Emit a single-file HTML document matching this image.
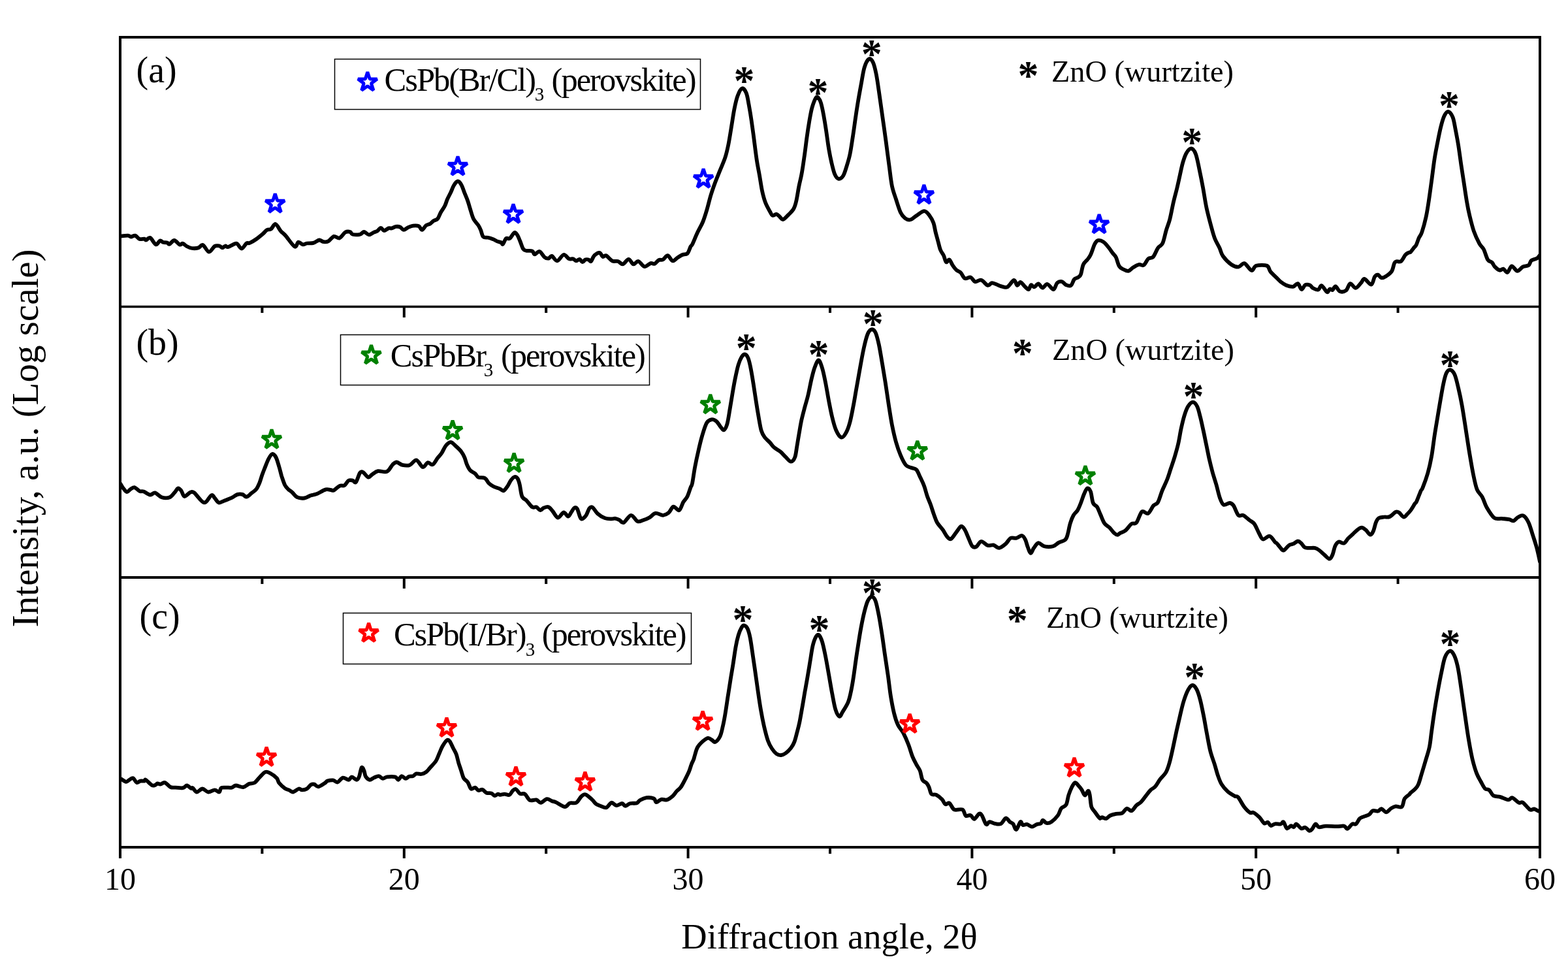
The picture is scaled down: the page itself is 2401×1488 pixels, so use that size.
<!DOCTYPE html><html><head><meta charset="utf-8"><title>XRD patterns</title>
<style>html,body{margin:0;padding:0;background:#fff;overflow:hidden;width:2401px;height:1488px;}svg{display:block;}</style></head><body>
<svg width="2401" height="1488" viewBox="0 0 2401 1488">
<rect width="2401" height="1488" fill="#fff"/>
<defs><clipPath id="pa"><rect x="184" y="40" width="2174" height="1257"/></clipPath></defs>
<g fill="none" stroke="#000" stroke-width="5.8" stroke-linejoin="round" stroke-linecap="round" clip-path="url(#pa)">
<path d="M184 361 C184.3 361.1 183.6 361.4 185.6 361.3 C187.6 361.2 193.5 360.4 196 360.6 C198.5 360.8 198.8 362.5 200.6 362.5 C202.4 362.5 204.8 360 207 360.6 C209.2 361.2 211.4 365.2 213.8 366 C216.1 366.8 219.3 365.4 221 365.6 C222.7 365.9 222.2 367.8 223.8 367.5 C225.2 367.2 227.5 362.9 230 364 C232.5 365.1 236.2 373.6 238.8 374.4 C241.2 375.1 243.1 369.1 245 368.5 C246.9 367.9 248.2 370.5 250 371 C251.8 371.5 254.4 371 256 371.5 C257.6 372 257.6 374.3 259.4 373.8 C261.2 373.2 264.3 367.9 266.9 368 C269.5 368.1 272.8 373.6 275 374.4 C277.2 375.2 278.2 372.3 280 372.8 C281.8 373.2 283.7 375.8 286 377 C288.3 378.2 290.8 379.6 293.8 380 C296.7 380.4 300.9 380.2 303.8 379.4 C306.6 378.6 307.9 374 310.6 375 C313.3 376 317 385.3 320 385.6 C323 385.9 326.1 378.4 328.8 376.9 C331.4 375.4 334 376.1 336 376.5 C338 376.9 339.1 379.4 340.6 379.4 C342.1 379.4 343.5 376.7 345 376.5 C346.5 376.3 346.9 378.6 349.4 378 C351.9 377.4 357.6 373.7 360 373 C362.4 372.3 362.1 372.5 363.8 373.8 C365.4 375 367.7 380.8 370 380.6 C372.3 380.4 375.4 373.9 377.5 372.5 C379.6 371.1 380 373 382.5 371.9 C385 370.8 389.2 368.3 392.5 366 C395.8 363.7 399.8 360.3 402.5 358 C405.2 355.7 406.7 353.2 408.8 352 C410.8 350.8 412.8 352.1 415 350.6 C417.2 349.1 419.4 342.5 421.9 343 C424.4 343.5 427.4 350.8 430 353.8 C432.6 356.8 434 357 437.5 361 C441 365 448 375.9 451.2 377.5 C454.5 379.1 454.8 371.1 456.9 370.6 C459 370.1 461.6 374.1 463.8 374.4 C465.9 374.7 467.3 372.9 470 372.5 C472.7 372.1 476.9 372.7 480 371.9 C483.1 371.1 486.2 367.8 488.8 367.5 C491.2 367.2 492.7 369.7 495 370 C497.3 370.3 499.8 370.8 502.5 369.4 C505.2 368 508.3 362.7 511.2 361.9 C514.2 361.1 517.1 365.4 520 364.4 C522.9 363.3 526 357.2 528.8 355.6 C531.5 354 534.4 354.5 536.2 355 C538.1 355.5 537.5 358.1 540 358.8 C542.5 359.4 548.3 359.4 551.2 358.8 C554.2 358.1 555.2 354.9 557.5 355 C559.8 355.1 562.5 359.3 565 359.4 C567.5 359.5 570.4 356.5 572.5 355.6 C574.6 354.7 575.7 354.9 577.5 353.8 C579.3 352.6 581.3 348.9 583.1 348.8 C584.9 348.6 586.1 353 588.1 353.1 C590.1 353.2 593 350 595 349.4 C597 348.8 598.1 349.8 600 349.4 C601.9 349 604.2 347.2 606.2 346.9 C608.3 346.6 610.5 346.7 612.5 347.5 C614.5 348.3 616 351.8 618.1 351.9 C620.2 352 622.6 349.2 625 348.1 C627.4 347.1 629.8 345.9 632.5 345.6 C635.2 345.3 639 345.2 641.2 346.2 C643.5 347.3 644.4 352.1 646.2 351.9 C648.1 351.7 650.4 346.6 652.5 345 C654.6 343.4 656.9 343.6 658.8 342.5 C660.6 341.4 661.9 339.4 663.8 338.1 C665.6 336.9 668.1 337.2 670 335 C671.9 332.8 673.1 328.3 675 325 C676.9 321.7 679.6 318.3 681.2 315 C682.9 311.7 683.5 308.3 685 305 C686.5 301.7 688.3 298.5 690 295 C691.7 291.5 693.2 286.7 695 283.8 C696.8 280.8 699.1 277.7 701 277.5 C702.9 277.3 704.5 279.6 706.2 282.5 C708 285.4 709.6 290.8 711.2 295 C712.9 299.2 714.8 303.3 716.2 307.5 C717.7 311.7 718.5 315.4 720 320 C721.5 324.6 722.9 330.8 725 335 C727.1 339.2 730.6 342.1 732.5 345 C734.4 347.9 735 349.6 736.2 352.5 C737.5 355.4 738.1 360.6 740 362.5 C741.9 364.4 745 363.1 747.5 363.8 C750 364.4 752.7 365.3 755 366.2 C757.3 367.2 759.2 368.6 761.2 369.4 C763.3 370.2 766 370.5 767.5 371.2 C769 372 768.8 374.8 770 373.8 C771.2 372.7 773.2 366.5 775 365 C776.8 363.5 778.5 366.5 780.6 365 C782.7 363.5 785.6 357.2 787.5 356.2 C789.4 355.3 790.4 357.3 791.9 359.4 C793.4 361.5 794.7 365.1 796.2 368.8 C797.8 372.4 799.6 378.8 801.2 381.2 C802.9 383.8 804 383.2 806.2 383.8 C808.5 384.3 812.9 383.5 815 384.4 C817.1 385.3 816.9 389.3 818.8 389.4 C820.6 389.5 823.8 384.3 826.2 385 C828.8 385.7 831.5 392 833.8 393.8 C836 395.5 838.1 395.9 840 395.6 C841.9 395.3 842.8 391.3 845 391.9 C847.2 392.5 850.1 399.7 853.1 399.4 C856.1 399.1 860.1 390.5 863.1 390 C866.1 389.5 868.9 395.2 871.2 396.2 C873.6 397.3 875.6 395.7 877.5 396.2 C879.4 396.8 880.8 399.3 882.5 399.4 C884.2 399.5 885.9 396.6 887.5 396.9 C889.1 397.2 890.4 401.1 891.9 401.2 C893.4 401.4 894.7 398.1 896.2 397.5 C897.8 396.9 899.8 397.1 901.2 397.5 C902.7 397.9 903.5 401 905 400 C906.5 399 907.8 393.4 910 391.2 C912.2 389.1 915.9 386.6 918.1 386.9 C920.3 387.2 921.4 392.4 923.1 393.1 C924.8 393.8 925.7 390.2 928.1 391.2 C930.5 392.3 934.5 397.9 937.5 399.4 C940.5 400.9 943.5 399.2 946.2 400 C949 400.8 951 404.9 953.8 404.4 C956.5 403.9 959.8 396.9 962.5 396.9 C965.2 396.9 967.5 403.9 970 404.4 C972.5 404.9 974.7 399.4 977.5 400 C980.3 400.6 983.8 407.6 986.9 408.1 C990 408.6 993.6 403.8 996.2 403.1 C998.9 402.4 1000.4 404.6 1002.5 403.8 C1004.6 402.9 1006.7 399.1 1008.8 398.1 C1010.8 397.1 1012.7 398.6 1015 397.5 C1017.3 396.4 1020 390.9 1022.5 391.2 C1025 391.6 1027.5 398.9 1030 399.4 C1032.5 399.9 1035 396 1037.5 394.4 C1040 392.8 1042.5 391.1 1045 390 C1047.5 388.9 1050.4 390.2 1052.5 388.1 C1054.6 386 1056.2 379.8 1057.5 377.5 C1058.8 375.2 1058.2 377.9 1060 374.3 C1061.8 370.7 1065.3 361.8 1068 356.1 C1070.7 350.4 1073.7 345.7 1076.1 340 C1078.5 334.3 1080.2 328.6 1082.2 321.9 C1084.2 315.2 1086.2 306.4 1088.2 299.7 C1090.2 293 1092 287.9 1094.3 281.5 C1096.6 275.1 1099.6 268.1 1102.3 261.4 C1105 254.7 1108.2 247.9 1110.4 241.2 C1112.6 234.5 1113.7 229.4 1115.4 221 C1117.1 212.6 1119 199.9 1120.5 190.8 C1122 181.7 1123 174 1124.5 166.6 C1126 159.2 1127.6 151.7 1129.6 146.5 C1131.5 141.3 1134 136.1 1136.2 135.4 C1138.4 134.7 1141 138.2 1142.7 142.4 C1144.5 146.6 1145.4 153.5 1146.7 160.6 C1148 167.7 1149.4 175.7 1150.7 184.8 C1152 193.9 1153.5 204.9 1154.8 215 C1156.1 225.1 1157.5 236.5 1158.8 245.2 C1160.1 253.9 1161.4 259.7 1162.8 267.4 C1164.2 275.1 1165.4 284.5 1166.9 291.6 C1168.4 298.7 1169.9 304.4 1171.9 309.8 C1173.9 315.2 1177.2 320.5 1179 323.9 C1180.8 327.2 1181.3 329.2 1183 329.9 C1184.7 330.6 1187.2 327.6 1189 327.9 C1190.8 328.2 1192.3 330.5 1194 331.9 C1195.7 333.2 1196.9 336.5 1199.1 336 C1201.3 335.5 1204.5 331.6 1207.2 328.9 C1209.9 326.2 1213.2 323.3 1215.2 319.8 C1217.2 316.3 1218 313.4 1219.3 307.7 C1220.6 302 1222 292.3 1223.3 285.6 C1224.6 278.9 1225.9 274.8 1227.3 267.4 C1228.7 260 1230.1 250.6 1231.4 241.2 C1232.8 231.8 1234.1 220.4 1235.4 211 C1236.7 201.6 1238.1 192.5 1239.4 184.8 C1240.8 177.1 1241.8 170.5 1243.5 164.6 C1245.2 158.7 1247.9 152 1249.5 149.5 C1251.1 147 1251.7 148.4 1253 149.8 C1254.3 151.2 1255.8 153.4 1257.1 157.8 C1258.4 162.2 1259.8 168.9 1261.1 176 C1262.4 183.1 1263.8 191.5 1265.1 200.2 C1266.4 208.9 1267.8 220.3 1269.2 228.4 C1270.6 236.5 1271.7 242.1 1273.2 248.5 C1274.7 254.9 1276.4 262.5 1278.2 266.7 C1280 270.9 1282.1 273.5 1284.3 273.8 C1286.5 274.1 1289.3 271.9 1291.3 268.7 C1293.3 265.5 1294.7 260 1296.4 254.6 C1298.1 249.2 1299.9 243.6 1301.4 236.5 C1302.9 229.4 1304.1 221.1 1305.4 212.3 C1306.8 203.6 1308.2 193.1 1309.5 184 C1310.8 174.9 1312 166.9 1313.5 157.8 C1315 148.7 1316.8 138.7 1318.5 129.6 C1320.2 120.5 1321.6 110 1323.6 103.4 C1325.6 96.9 1328.4 91.7 1330.6 90.3 C1332.8 88.9 1334.8 91.4 1336.7 95.3 C1338.6 99.2 1340.2 106.1 1341.7 113.5 C1343.2 120.9 1344.5 130.6 1345.8 139.7 C1347.1 148.8 1348.5 158.5 1349.8 167.9 C1351.1 177.3 1352.4 186.3 1353.8 196.1 C1355.2 205.8 1356.6 216.3 1357.9 226.4 C1359.2 236.5 1360.6 246.9 1361.9 256.6 C1363.2 266.3 1364.2 276.7 1365.9 284.8 C1367.6 292.9 1369.8 298.3 1372 305 C1374.2 311.7 1376.7 320.3 1379 325.2 C1381.3 330.1 1383.6 332.3 1386.1 334.2 C1388.6 336.1 1391.3 337 1394.2 336.3 C1397.1 335.6 1399.7 332.4 1403.2 330.2 C1406.7 328 1411.9 323.1 1415.3 323.1 C1418.7 323.1 1421.1 327.2 1423.4 330.2 C1425.8 333.2 1427.9 337.2 1429.4 341.3 C1430.9 345.4 1431.4 350.4 1432.5 355 C1433.6 359.6 1435 364.2 1436.2 368.8 C1437.5 373.3 1438.5 378.8 1440 382.5 C1441.5 386.2 1443.5 388.1 1445 391.2 C1446.5 394.4 1447.3 400.2 1448.8 401.2 C1450.2 402.3 1452.1 396.7 1453.8 397.5 C1455.4 398.3 1456.9 403.5 1458.8 406.2 C1460.6 409 1462.9 411.9 1465 413.8 C1467.1 415.6 1469.2 415.4 1471.2 417.5 C1473.3 419.6 1475 425.1 1477.5 426.2 C1480 427.4 1483.7 423.6 1486.2 424.4 C1488.8 425.2 1490.4 430.5 1493.1 431.2 C1495.8 432 1499.3 427.8 1502.5 428.8 C1505.7 429.7 1509.8 436.2 1512.5 436.9 C1515.2 437.6 1516.5 433.3 1518.8 433.1 C1521 432.9 1524 434.8 1526.2 435.6 C1528.5 436.4 1529.8 437.5 1532.5 438.1 C1535.2 438.7 1539.2 441 1542.5 439.4 C1545.8 437.8 1550 429.2 1552.5 428.8 C1555 428.3 1555.8 436.4 1557.5 436.9 C1559.2 437.4 1560.6 431.7 1562.5 431.9 C1564.4 432.1 1566.7 436.2 1568.8 438.1 C1570.8 440 1573.3 443.4 1575 443.1 C1576.7 442.8 1577.3 436.9 1578.8 436.2 C1580.2 435.6 1581.9 439.7 1583.8 439.4 C1585.6 439.1 1587.9 434.2 1590 434.4 C1592.1 434.6 1594 440.5 1596.2 440.6 C1598.5 440.7 1600.9 434.6 1603.8 435 C1606.6 435.4 1610.6 443.4 1613.1 443.1 C1615.6 442.8 1616.6 435.1 1618.8 433.1 C1620.9 431.1 1624 430.7 1626.2 431.2 C1628.5 431.8 1630.2 435.3 1632.5 436.2 C1634.8 437.2 1637.9 438.4 1640 436.9 C1642.1 435.4 1643.1 429.6 1645 427.5 C1646.9 425.4 1649.6 425.6 1651.2 424.4 C1652.9 423.1 1653.8 423.2 1655 420 C1656.2 416.8 1657.1 408.8 1658.8 405 C1660.4 401.2 1663.1 400 1665 397.5 C1666.9 395 1668.1 394 1670 390 C1671.9 386 1674.4 377.4 1676.2 373.8 C1678.1 370.1 1679 368.6 1681.2 368.1 C1683.5 367.6 1687.3 368.8 1690 370.6 C1692.7 372.4 1695.2 375.9 1697.5 378.8 C1699.8 381.6 1701.9 385 1703.8 387.5 C1705.6 390 1707.1 390.4 1708.8 393.8 C1710.4 397.1 1711.9 404.4 1713.8 407.5 C1715.6 410.6 1717.7 411 1720 412.2 C1722.3 413.4 1725.2 415.3 1727.7 414.9 C1730.2 414.4 1732.3 411.1 1735 409.5 C1737.7 407.9 1741.3 405.6 1744 405 C1746.7 404.4 1748.9 407.4 1751.3 405.9 C1753.7 404.4 1756.1 398 1758.5 395.9 C1760.9 393.8 1763.4 395.9 1765.8 393.2 C1768.2 390.5 1770.7 383.1 1773.1 379.6 C1775.5 376.1 1778.2 376.8 1780.3 372.3 C1782.4 367.8 1784 358.4 1785.8 352.4 C1787.6 346.3 1789.4 343 1791.2 336 C1793 329 1794.8 318.5 1796.6 310.6 C1798.4 302.8 1800.4 295.8 1802.1 288.9 C1803.8 281.9 1805.1 275.6 1806.6 268.9 C1808.1 262.2 1809.5 254.7 1811.2 248.9 C1812.9 243.2 1814.4 238 1816.6 234.4 C1818.8 230.8 1822 227.2 1824.4 227.5 C1826.8 227.8 1829.1 230.8 1831.1 236.2 C1833.1 241.6 1834.8 251.3 1836.6 259.8 C1838.4 268.3 1840.2 277.3 1842 287 C1843.8 296.7 1845.3 307.9 1847.4 317.9 C1849.5 327.9 1852.6 339 1854.7 346.9 C1856.8 354.8 1858 359.6 1860.1 365 C1862.2 370.4 1865.3 375.1 1867.4 379.6 C1869.5 384.2 1869.8 388.1 1872.8 392.3 C1875.8 396.5 1881.6 402.3 1885.5 405 C1889.4 407.7 1893.1 408.9 1896.4 408.6 C1899.7 408.3 1902.2 402.2 1905.5 403.1 C1908.8 404 1913.4 413.4 1916.4 414 C1919.4 414.6 1919.7 408 1923.6 406.8 C1927.5 405.6 1936.4 405.3 1940 406.8 C1943.6 408.3 1942.7 412.5 1945.4 415.8 C1948.1 419.1 1953.7 424.1 1956.3 426.7 C1958.9 429.3 1959 429.8 1961.2 431.5 C1963.4 433.2 1966.5 435.5 1969.6 436.7 C1972.7 437.9 1977 439.2 1980 438.8 C1983 438.4 1985.1 433.4 1987.3 434.1 C1989.5 434.8 1991.1 442.6 1993 443 C1994.9 443.4 1996.5 437.2 1998.7 436.2 C2000.9 435.1 2004.1 435.9 2006 436.7 C2007.9 437.5 2008.1 439.8 2010.2 440.9 C2012.3 442 2016.2 444.1 2018.5 443.5 C2020.8 442.9 2021.5 436.6 2023.7 437.2 C2026 437.8 2029.9 446.2 2032 447.1 C2034.1 448 2034.8 443 2036.2 442.5 C2037.6 442 2038.9 444.7 2040.4 444 C2041.9 443.3 2043.2 437.9 2045.1 438.3 C2047 438.7 2049.1 445.1 2051.8 446.1 C2054.5 447.1 2058.6 446.5 2061.2 444.5 C2063.8 442.5 2065.1 434.7 2067.5 434.1 C2069.9 433.5 2073 441.1 2075.8 440.9 C2078.6 440.7 2081.8 435.5 2084.1 433.1 C2086.3 430.8 2086.7 426.4 2089.3 426.8 C2091.9 427.2 2097.1 436.2 2099.7 435.7 C2102.3 435.2 2103.3 426.2 2105 423.7 C2106.7 421.2 2108.4 420.3 2110.1 420.6 C2111.8 420.9 2113.2 425 2115.3 425.3 C2117.4 425.6 2120 424.4 2122.6 422.7 C2125.2 421 2128.9 418.7 2131 415.4 C2133.1 412.1 2133.9 405.4 2135.1 402.9 C2136.3 400.4 2136.6 400.8 2138.3 400.3 C2140 399.8 2143.2 401.5 2145.5 399.8 C2147.8 398.1 2149.9 392.6 2151.8 390.4 C2153.7 388.2 2155.6 387.5 2157 386.7 C2158.4 385.9 2158.6 387.1 2160 385.8 C2161.4 384.5 2163.9 380.7 2165.3 378.9 C2166.7 377.1 2167.4 377.4 2168.6 375 C2169.8 372.6 2171.2 367.6 2172.6 364.4 C2174 361.2 2175.4 361.1 2177.2 355.7 C2179 350.3 2181.8 340.3 2183.6 332.1 C2185.4 323.9 2186.6 315.6 2188 306.3 C2189.4 297 2190.8 286.6 2192.2 276.2 C2193.6 265.8 2195.1 253.2 2196.5 243.9 C2197.9 234.6 2199.2 228.5 2200.8 220.3 C2202.4 212.1 2204.4 201.7 2206.2 194.5 C2208 187.3 2209.7 181.2 2211.6 177.3 C2213.5 173.4 2215.4 170.5 2217.6 170.8 C2219.8 171.2 2222.6 174.7 2224.5 179.4 C2226.4 184.1 2227.4 191.6 2228.8 198.8 C2230.2 206 2231.7 213.5 2233.1 222.4 C2234.5 231.3 2236 242.8 2237.4 252.5 C2238.8 262.2 2240.3 271.2 2241.7 280.5 C2243.1 289.8 2244.6 300.2 2246 308.4 C2247.4 316.6 2248.5 322.4 2250.3 329.9 C2252.1 337.4 2254.2 346.4 2256.7 353.6 C2259.2 360.8 2262.8 368.2 2265.3 372.9 C2267.8 377.5 2269.7 377.4 2271.8 381.5 C2274 385.6 2276 394.2 2278.2 397.6 C2280.3 401 2282.9 400.1 2284.7 401.9 C2286.5 403.7 2287 406.4 2289 408.4 C2291 410.4 2294.3 413.2 2296.5 413.7 C2298.7 414.2 2299.9 411.1 2301.9 411.6 C2303.9 412.2 2306.2 417.7 2308.3 417 C2310.5 416.3 2312.3 407.7 2314.8 407.3 C2317.3 406.9 2320.5 414.6 2323.4 414.8 C2326.3 415 2329.1 409.8 2332 408.4 C2334.9 407 2338.4 407.8 2340.6 406.2 C2342.8 404.6 2342.8 400.5 2344.9 398.7 C2347.1 396.9 2351.3 396.9 2353.5 395.5 C2355.7 394.1 2357.2 391.3 2358 390.5"/>
<path d="M184 740 C184.3 740.4 184.8 741.2 185.6 742.5 C186.4 743.8 187.3 745.7 188.8 747.5 C190.2 749.3 192.5 752.9 194.4 753.1 C196.3 753.3 198 749.9 200 748.8 C202 747.6 204 745.7 206.2 746.2 C208.5 746.8 211.5 750.9 213.8 751.9 C216 752.9 217.3 751.6 220 752.5 C222.7 753.4 227.1 757.2 230 757.5 C232.9 757.8 234.6 753.8 237.5 754.4 C240.4 755 243.8 760.1 247.5 761.2 C251.2 762.4 256.7 762.5 260 761.2 C263.3 760 265.4 756 267.5 753.8 C269.6 751.5 270.8 747.9 272.5 747.5 C274.2 747.1 275.8 749.2 277.5 751.2 C279.2 753.3 280.2 759.6 282.5 760 C284.8 760.4 288.8 754.7 291.2 753.8 C293.8 752.8 294 751.8 297.5 754.4 C301 757 308.1 768.8 312.5 769.4 C316.9 770 321 759.2 323.8 758.1 C326.5 757 326.9 760.6 328.8 762.5 C330.6 764.4 332.7 768.7 335 769.4 C337.3 770.1 339.2 768.1 342.5 766.9 C345.8 765.6 351.5 763.6 355 761.9 C358.5 760.2 361 757.7 363.8 756.9 C366.5 756.1 369 756.3 371.2 756.9 C373.5 757.5 375.2 760.9 377.5 760.6 C379.8 760.3 382.5 757 385 755 C387.5 753 390.4 751.5 392.5 748.8 C394.6 746 396 742.3 397.5 738.8 C399 735.2 400 731 401.2 727.5 C402.5 724 403.3 721.7 405 717.5 C406.7 713.3 409.3 706.2 411.2 702.5 C413.2 698.8 415 695.4 416.9 695 C418.8 694.6 420.7 696.7 422.5 700 C424.3 703.3 426 710.2 427.5 715 C429 719.8 429.8 724.2 431.2 728.8 C432.7 733.3 434.6 739.2 436.2 742.5 C437.9 745.8 439.4 746.9 441.2 748.8 C443.1 750.6 445.2 751.7 447.5 753.8 C449.8 755.8 451.9 759.8 455 761.2 C458.1 762.7 462.9 762.9 466.2 762.5 C469.6 762.1 472.7 759.6 475 758.8 C477.3 757.9 478.1 758 480 757.5 C481.9 757 483.1 757 486.2 755.6 C489.4 754.2 495.4 750.3 498.8 749.4 C502.1 748.5 504.2 749.8 506.2 750 C508.3 750.2 509 751.6 511.2 750.6 C513.5 749.6 517.3 745 520 743.8 C522.7 742.5 525.2 744.5 527.5 743.1 C529.8 741.7 531.7 736.9 533.8 735.6 C535.8 734.4 538.1 735.2 540 735.6 C541.9 736 543.1 740.1 545 738.1 C546.9 736.1 549.4 726.2 551.2 723.8 C553.1 721.2 554.2 722 556.2 723.1 C558.3 724.2 561.5 730.1 563.8 730.6 C566 731.1 567.5 727.8 570 726.2 C572.5 724.7 575 722 578.8 721.2 C582.5 720.5 588.8 723.6 592.5 721.9 C596.2 720.2 598.8 713.6 601.2 711.2 C603.8 708.9 605 707.4 607.5 707.5 C610 707.6 612.9 711.2 616.2 711.9 C619.6 712.6 624 713.1 627.5 711.9 C631 710.6 634.2 703.9 637.5 704.4 C640.8 704.9 644.6 714.4 647.5 715 C650.4 715.6 652.5 708.7 655 708.1 C657.5 707.5 660 712.4 662.5 711.2 C665 710.1 667.7 704.2 670 701.2 C672.3 698.3 674.2 696.9 676.2 693.8 C678.3 690.6 680.2 685.3 682.5 682.5 C684.8 679.7 687.5 676.9 690 676.9 C692.5 676.9 694.8 680.1 697.5 682.5 C700.2 684.9 704 688.3 706.2 691.2 C708.5 694.2 709.8 696.7 711.2 700 C712.7 703.3 713.5 707.9 715 711.2 C716.5 714.6 717.9 717.7 720 720 C722.1 722.3 725.4 723.2 727.5 725 C729.6 726.8 730 729.5 732.5 730.6 C735 731.8 739.8 730.3 742.5 731.9 C745.2 733.5 746.5 737.8 748.8 740 C751 742.2 753.5 743.6 756.2 745 C759 746.4 762.5 747.1 765 748.1 C767.5 749.1 769.2 752 771.2 751.2 C773.3 750.5 775.6 746.5 777.5 743.8 C779.4 741 780.7 737.3 782.5 735 C784.3 732.7 786.4 730.4 788.1 730 C789.8 729.6 791.2 730.6 792.5 732.5 C793.8 734.4 794.5 736.7 795.6 741.2 C796.8 745.8 797.6 755.8 799.4 760 C801.2 764.2 803.6 763.5 806.2 766.2 C808.9 769 812.5 774.6 815 776.2 C817.5 777.9 819.2 775.4 821.2 776.2 C823.3 777.1 825.6 781 827.5 781.2 C829.4 781.5 830.4 778.3 832.5 777.5 C834.6 776.7 837.7 775.4 840 776.2 C842.3 777.1 843.9 779.8 846.2 782.5 C848.6 785.2 851.6 792.2 854.4 792.5 C857.2 792.8 860.5 784.7 863.1 784.4 C865.7 784.1 868 790.7 870 790.6 C872 790.5 873.4 785.9 875 783.8 C876.6 781.6 877.9 778.3 879.4 777.5 C880.9 776.7 882.3 776.5 883.8 778.8 C885.2 781 886.9 788.6 888.1 791.2 C889.4 793.9 889.7 794.8 891.2 794.4 C892.8 794 895.6 791.5 897.5 788.8 C899.4 786 900.8 780.1 902.5 778.1 C904.2 776.1 905.4 775.5 907.5 776.9 C909.6 778.3 911.9 783.5 915 786.2 C918.1 789 922.7 791.7 926.2 793.1 C929.8 794.5 933.5 794.3 936.2 794.4 C939 794.5 940.4 793.4 942.5 793.8 C944.6 794.1 946.7 795.2 948.8 796.2 C950.8 797.3 952.1 801.2 955 800 C957.9 798.8 962.7 789.1 966.2 788.8 C969.8 788.4 973.1 796.9 976.2 798.1 C979.4 799.4 981.9 797.3 985 796.2 C988.1 795.2 991.9 793.7 995 791.9 C998.1 790.1 1000.4 786.1 1003.8 785.6 C1007.1 785.1 1011.7 788.9 1015 788.8 C1018.3 788.6 1021 787.2 1023.8 785 C1026.5 782.8 1028.5 776.2 1031.2 775.6 C1034 775 1037.5 782.4 1040 781.2 C1042.5 780.1 1044.2 772.3 1046.2 768.8 C1048.3 765.2 1050.6 763.8 1052.5 760 C1054.4 756.2 1056.2 749.6 1057.5 746.2 C1058.8 742.9 1058.9 745.1 1060 740 C1061.1 734.9 1062.5 723.9 1064 715.8 C1065.5 707.7 1067.2 699.7 1069.1 691.6 C1070.9 683.5 1072.9 674.8 1075.1 667.4 C1077.3 660 1079.7 651.5 1082.2 647.3 C1084.7 643.1 1087.7 642.6 1090.2 642.2 C1092.7 641.9 1095.1 643.4 1097.3 645.2 C1099.5 647.1 1101.4 651.1 1103.3 653.3 C1105.2 655.5 1106.7 659 1108.4 658.3 C1110.1 657.6 1111.9 654.5 1113.4 649.3 C1114.9 644.1 1116.2 634.8 1117.5 627.1 C1118.8 619.4 1120.2 610.6 1121.5 602.9 C1122.8 595.2 1124 588.1 1125.5 580.7 C1127 573.3 1128.9 564.2 1130.6 558.5 C1132.3 552.8 1133.9 549.2 1135.6 546.5 C1137.3 543.8 1138.9 542.1 1140.6 542.4 C1142.3 542.7 1144.2 544.8 1145.7 548.5 C1147.2 552.2 1148.4 557.9 1149.7 564.6 C1151 571.3 1152.5 580.4 1153.8 588.8 C1155.1 597.2 1156.5 606.6 1157.8 615 C1159.1 623.4 1160.5 631.8 1161.8 639.2 C1163.1 646.6 1164.3 654.4 1165.8 659.4 C1167.3 664.4 1168.7 666.4 1170.9 669.4 C1173.1 672.4 1176.7 675 1179 677.5 C1181.3 680 1182.3 682.2 1185 684.6 C1187.7 687 1192.1 689.1 1195.1 691.6 C1198.1 694.1 1200.4 697.2 1203.1 699.7 C1205.8 702.2 1208.8 706.7 1211.2 706.7 C1213.6 706.7 1215.8 703.6 1217.3 699.7 C1218.8 695.8 1219.3 689.2 1220.3 683.5 C1221.3 677.8 1222.1 672.1 1223.3 665.4 C1224.5 658.7 1225.8 650.2 1227.3 643.2 C1228.8 636.2 1230.7 629.5 1232.4 623.1 C1234.1 616.7 1235.7 612 1237.4 604.9 C1239.1 597.8 1240.8 587.8 1242.5 580.7 C1244.2 573.7 1245.7 567.5 1247.5 562.6 C1249.3 557.7 1251.6 551.3 1253.5 551.5 C1255.4 551.7 1257.3 558 1259.1 563.8 C1260.9 569.5 1262.4 577.6 1264.1 586 C1265.8 594.4 1267.5 605.5 1269.2 614.2 C1270.9 622.9 1272.4 631 1274.2 638.4 C1276 645.8 1277.9 653.3 1280.2 658.5 C1282.5 663.7 1285.8 668.9 1288.3 669.6 C1290.8 670.3 1293.2 666.5 1295.4 662.6 C1297.6 658.8 1299.6 653.2 1301.4 646.5 C1303.2 639.8 1304.8 631 1306.5 622.3 C1308.2 613.5 1309.8 603.4 1311.5 594 C1313.2 584.6 1314.7 575.9 1316.5 565.8 C1318.3 555.7 1320.6 542.6 1322.6 533.5 C1324.6 524.4 1326.6 516.3 1328.6 511.4 C1330.6 506.5 1332.7 504.6 1334.7 504.3 C1336.7 504 1338.9 505.5 1340.7 509.4 C1342.5 513.3 1344.1 519.8 1345.8 527.5 C1347.5 535.2 1349.1 546 1350.8 555.7 C1352.5 565.5 1354.1 575.2 1355.8 586 C1357.5 596.8 1359.2 609.5 1360.9 620.2 C1362.6 631 1364.1 641.1 1365.9 650.5 C1367.8 659.9 1369.8 669 1372 676.7 C1374.2 684.4 1376.5 691 1379 696.9 C1381.5 702.8 1384.4 708.8 1387.1 712 C1389.8 715.2 1392.5 714.8 1395.2 716 C1397.9 717.2 1400.9 716.5 1403.2 719 C1405.5 721.5 1407.3 727 1409.3 731.1 C1411.3 735.2 1413.2 738.9 1415 743.8 C1416.8 748.6 1418.3 755.2 1420 760 C1421.7 764.8 1423.3 767.9 1425 772.5 C1426.7 777.1 1428.3 782.9 1430 787.5 C1431.7 792.1 1432.7 796 1435 800 C1437.3 804 1441.2 807.7 1443.8 811.2 C1446.2 814.8 1447.9 819 1450 821.2 C1452.1 823.5 1453.8 826.2 1456.2 825 C1458.8 823.8 1462.4 817 1465 813.8 C1467.6 810.5 1469.8 806 1471.9 805.6 C1474 805.2 1475.7 808.4 1477.5 811.2 C1479.3 814.1 1480.6 818.3 1482.5 822.5 C1484.4 826.7 1486.7 833.9 1488.8 836.2 C1490.8 838.6 1492.7 838.1 1495 836.9 C1497.3 835.6 1499.6 829.1 1502.5 828.8 C1505.4 828.4 1509.4 834.1 1512.5 835 C1515.6 835.9 1518.3 833.8 1521.2 834.4 C1524.2 835 1526.9 839.1 1530 838.8 C1533.1 838.4 1537.1 835 1540 832.5 C1542.9 830 1544.8 825.2 1547.5 823.8 C1550.2 822.3 1553.3 824.4 1556.2 823.8 C1559.2 823.1 1562.7 819.6 1565 820 C1567.3 820.4 1568.5 823.3 1570 826.2 C1571.5 829.2 1572.4 834.1 1573.8 837.5 C1575.1 840.9 1576.5 846.7 1578.1 846.9 C1579.7 847.1 1581.1 841.4 1583.1 838.8 C1585.1 836.1 1587.4 831.7 1590 831.2 C1592.6 830.8 1595 835.4 1598.8 836.2 C1602.5 837.1 1608.8 837.2 1612.5 836.2 C1616.2 835.3 1618.1 832.3 1621.2 830.6 C1624.4 828.9 1629 828.4 1631.2 826.2 C1633.5 824.1 1633.8 821.7 1635 817.5 C1636.2 813.3 1637.3 806 1638.8 801.2 C1640.2 796.5 1641.9 792.1 1643.8 788.8 C1645.6 785.4 1648.1 784.4 1650 781.2 C1651.9 778.1 1653.3 774.2 1655 770 C1656.7 765.8 1658.3 760 1660 756.2 C1661.7 752.5 1663.3 748.1 1665 747.5 C1666.7 746.9 1668.5 748.8 1670 752.5 C1671.5 756.2 1672.1 766 1673.8 770 C1675.4 774 1678.1 773.3 1680 776.2 C1681.9 779.2 1683.1 783.3 1685 787.5 C1686.9 791.7 1689 797.9 1691.2 801.2 C1693.5 804.6 1696.2 805 1698.8 807.5 C1701.2 810 1704.2 814.4 1706.2 816.2 C1708.3 818.1 1709.8 818.8 1711.2 818.8 C1712.7 818.8 1713 817.3 1715 816.2 C1717 815.2 1720.3 814.7 1723.2 812.3 C1726.1 809.9 1729.8 804 1732.6 802 C1735.4 800 1737.4 803.2 1740.1 800.1 C1742.8 797 1745.6 785.6 1748.6 783.2 C1751.6 780.9 1755 787.6 1758 786 C1761 784.4 1763.9 776.6 1766.4 773.8 C1768.9 771 1770.8 772.8 1773 769 C1775.2 765.2 1777.2 757 1779.6 751.2 C1781.9 745.4 1784.9 739.9 1787.1 734.3 C1789.3 728.6 1790.9 722.9 1792.8 717.3 C1794.7 711.6 1796.5 706.7 1798.4 700.4 C1800.3 694.1 1802.4 687.2 1804.1 679.7 C1805.8 672.2 1807.2 662.4 1808.8 655.2 C1810.4 648 1811.8 641.9 1813.5 636.4 C1815.2 630.9 1816.9 625.8 1819.1 622.3 C1821.3 618.8 1824.2 615.7 1826.6 615.7 C1828.9 615.7 1831.3 618.5 1833.2 622.3 C1835.1 626.1 1836.3 632.2 1837.9 638.3 C1839.5 644.4 1841 651.8 1842.6 659 C1844.2 666.2 1845.7 674.1 1847.3 681.6 C1848.9 689.1 1850.4 697.3 1852 704.2 C1853.6 711.1 1855 716.7 1856.7 723 C1858.4 729.3 1860.5 735.2 1862.4 741.8 C1864.3 748.4 1866.1 757.3 1868 762.5 C1869.9 767.7 1871.2 771.5 1873.7 772.8 C1876.2 774 1880.6 769.8 1883.1 770 C1885.6 770.2 1886.5 770.7 1888.7 773.8 C1890.9 776.9 1893.7 786.3 1896.2 788.8 C1898.7 791.3 1901 787.5 1903.8 788.8 C1906.6 790 1910.4 794.1 1913.2 796.3 C1916 798.5 1918.2 798.5 1920.7 802 C1923.2 805.5 1926 813.1 1928.2 817 C1930.4 820.9 1931.2 824.9 1933.9 825.5 C1936.6 826.1 1941.1 820 1944.2 820.8 C1947.3 821.6 1950.9 828.4 1952.7 830.2 C1954.5 832 1953.8 830.3 1955 831.6 C1956.2 832.9 1958.5 836.1 1960.2 837.9 C1961.9 839.7 1963.2 843.1 1965.4 842.6 C1967.7 842.1 1971.3 836.4 1973.7 834.8 C1976.1 833.1 1977.7 833.8 1980 832.7 C1982.3 831.7 1985.2 828.7 1987.3 828.5 C1989.4 828.3 1990.8 830 1992.5 831.6 C1994.2 833.2 1995.8 836.7 1997.7 837.9 C1999.6 839.1 2001.3 838.7 2003.9 838.9 C2006.5 839.1 2010.7 838.4 2013.3 838.9 C2015.9 839.4 2017.2 840.3 2019.6 842 C2022 843.7 2025.2 847 2027.9 849.3 C2030.6 851.6 2033.6 855.6 2035.7 855.6 C2037.8 855.6 2038.9 852.6 2040.4 849.3 C2041.9 846 2042.9 839.1 2044.5 835.8 C2046.1 832.5 2047.5 830.2 2049.8 829.5 C2052.1 828.8 2055.7 832.5 2058.1 831.6 C2060.5 830.7 2062.1 826.6 2064.3 824.3 C2066.6 822 2069.2 819.9 2071.6 817.6 C2074 815.4 2076.6 812.4 2078.9 810.8 C2081.2 809.1 2083.1 807.6 2085.2 807.7 C2087.3 807.8 2089.2 809.5 2091.4 811.3 C2093.6 813.1 2096.3 818.3 2098.2 818.6 C2100.1 818.9 2101.4 816.1 2102.9 812.9 C2104.4 809.7 2105.6 802.7 2107 799.4 C2108.4 796.1 2109.1 794.4 2111.2 793.1 C2113.3 791.8 2116.7 791.9 2119.5 791.5 C2122.3 791.1 2124.9 792.3 2127.8 791 C2130.8 789.7 2134.8 784.7 2137.2 783.7 C2139.6 782.7 2140.4 783.5 2142.4 784.8 C2144.4 786.1 2147.1 791.1 2149.2 791.5 C2151.3 791.9 2153.2 788.6 2155 786.9 C2156.8 785.2 2158.1 784 2160 781.4 C2161.9 778.8 2164.9 773.5 2166.4 771.2 C2167.9 768.9 2167.6 771 2169.1 767.7 C2170.6 764.4 2174.2 754.8 2175.7 751.4 C2177.2 748 2176.5 751.6 2178.3 747.1 C2180.1 742.6 2184 732.2 2186.3 724.2 C2188.6 716.2 2190.3 708.6 2192 699.1 C2193.7 689.6 2195.1 677 2196.6 667.1 C2198.1 657.2 2199.6 648.8 2201.1 639.7 C2202.6 630.6 2204.2 621.1 2205.7 612.3 C2207.2 603.5 2208.8 594 2210.3 587.1 C2211.8 580.2 2213.1 574.6 2214.8 571.1 C2216.5 567.6 2218.5 565.7 2220.6 566.1 C2222.7 566.5 2225.3 568.8 2227.4 573.4 C2229.5 578 2231.2 586 2233.1 594 C2235 602 2236.9 610.7 2238.8 621.4 C2240.7 632.1 2242.7 645.8 2244.6 658 C2246.5 670.2 2248.4 683.1 2250.3 694.5 C2252.2 705.9 2254.1 717.4 2256 726.5 C2257.9 735.6 2259.4 743.7 2261.7 749.4 C2264 755.1 2267.2 756.2 2269.7 760.8 C2272.2 765.4 2273.4 771.5 2276.5 776.8 C2279.6 782.1 2284.2 789.9 2288 792.8 C2291.8 795.6 2295.6 793.5 2299.4 793.9 C2303.2 794.3 2307.8 794.5 2310.8 795.1 C2313.9 795.7 2315.4 798 2317.7 797.4 C2320 796.8 2322 793 2324.5 791.7 C2327 790.4 2329.8 788.1 2332.5 789.4 C2335.2 790.7 2338 794.6 2340.5 799.7 C2343 804.8 2345.3 813.7 2347.4 820.2 C2349.5 826.7 2351.3 831.9 2353.1 838.5 C2354.9 845.1 2357.2 856.4 2358 860"/>
<path d="M184 1192 C184.3 1192.1 184.1 1191.7 185.6 1192.5 C187.1 1193.3 191 1196.7 193.1 1196.9 C195.2 1197.1 196.3 1194.7 198.1 1193.8 C199.9 1192.8 201.9 1190.5 203.8 1191.2 C205.6 1192 207.5 1197.4 209.4 1198.1 C211.3 1198.8 213 1196 215 1195.6 C217 1195.2 219.9 1195.9 221.2 1195.6 C222.6 1195.3 221.2 1192.7 223.1 1193.8 C225 1194.8 230.1 1200.5 232.5 1201.9 C234.9 1203.3 236 1202.3 237.5 1201.9 C239 1201.5 239.9 1199.6 241.2 1199.4 C242.6 1199.2 243.7 1200.8 245.6 1200.6 C247.5 1200.4 249.9 1197.4 252.5 1198.1 C255.1 1198.8 258.5 1203.8 261.2 1205 C264 1206.2 265.6 1205.4 268.8 1205.6 C271.9 1205.8 277.1 1206.8 280 1206.2 C282.9 1205.7 284.2 1202.4 286.2 1202.5 C288.3 1202.6 291 1206.3 292.5 1206.9 C294 1207.5 293.5 1205.3 295 1206.2 C296.5 1207.2 298.8 1212.3 301.2 1212.5 C303.8 1212.7 307.1 1207.5 310 1207.5 C312.9 1207.5 315.6 1212.2 318.8 1212.5 C321.9 1212.8 325.9 1209.4 328.8 1209.4 C331.6 1209.4 333.9 1213 335.6 1212.5 C337.3 1212 337 1207.4 338.8 1206.2 C340.5 1205.1 343.5 1205.7 346.2 1205.6 C349 1205.5 352.5 1206.1 355 1205.6 C357.5 1205.1 358.3 1202.6 361.2 1202.5 C364.2 1202.4 369.2 1205.4 372.5 1205 C375.8 1204.6 378.3 1201.2 381.2 1200 C384.2 1198.8 387.3 1199.8 390 1198.1 C392.7 1196.4 394.8 1192.7 397.5 1190 C400.2 1187.3 403.5 1182.9 406.2 1181.9 C409 1180.9 410.8 1182.2 413.8 1183.8 C416.7 1185.3 421.5 1188.8 423.8 1191.2 C426 1193.8 425.4 1196.1 427.5 1198.8 C429.6 1201.4 433.8 1205.1 436.2 1206.9 C438.8 1208.7 440.4 1208.5 442.5 1209.4 C444.6 1210.3 446.2 1212.8 448.8 1212.5 C451.2 1212.2 455.2 1208 457.5 1207.5 C459.8 1207 460.4 1209.4 462.5 1209.4 C464.6 1209.4 467.7 1208.9 470 1207.5 C472.3 1206.1 474.4 1202.4 476.2 1201.2 C478.1 1200.1 479.4 1200.1 481.2 1200.6 C483.1 1201.1 484.8 1204.7 487.5 1204.4 C490.2 1204.1 495.2 1200.2 497.5 1198.8 C499.8 1197.3 499.2 1196.3 501.2 1195.6 C503.3 1194.9 507.4 1194.1 510 1194.4 C512.6 1194.7 514.4 1198.1 516.9 1197.5 C519.4 1196.9 522.2 1191.2 525 1190.6 C527.8 1190 531.5 1194 533.8 1193.8 C536 1193.5 536.7 1189.4 538.8 1189.4 C540.8 1189.4 544.4 1193.9 546.2 1193.8 C548.1 1193.6 548.8 1191.9 550 1188.8 C551.2 1185.6 552.5 1176.5 553.8 1175 C555 1173.5 556.5 1177.7 557.5 1180 C558.5 1182.3 558.5 1186.5 560 1188.8 C561.5 1191 564.2 1193.4 566.2 1193.8 C568.3 1194.1 570.2 1191.5 572.5 1190.6 C574.8 1189.7 577.7 1187.9 580 1188.1 C582.3 1188.3 584.2 1191.7 586.2 1191.9 C588.3 1192.1 589.4 1189.8 592.5 1189.4 C595.6 1189 602.1 1188.7 605 1189.4 C607.9 1190.1 608.3 1194 610 1193.8 C611.7 1193.5 613.1 1188.4 615 1188.1 C616.9 1187.8 619.4 1191.8 621.2 1191.9 C623.1 1192 624.4 1189.4 626.2 1188.8 C628.1 1188.1 630.6 1188.8 632.5 1188.1 C634.4 1187.4 635.4 1184.9 637.5 1184.4 C639.6 1183.9 642.5 1185.4 645 1185 C647.5 1184.6 650.2 1183.6 652.5 1181.9 C654.8 1180.2 656.2 1177.8 658.8 1175 C661.2 1172.2 665.2 1168.5 667.5 1165 C669.8 1161.5 670.8 1157.5 672.5 1153.8 C674.2 1150 675.5 1145.9 677.5 1142.5 C679.5 1139.1 682.5 1134.3 684.4 1133.1 C686.3 1131.8 687.2 1133 688.8 1135 C690.3 1137 692.1 1141.7 693.8 1145 C695.4 1148.3 697.3 1151 698.8 1155 C700.2 1159 701.2 1164.6 702.5 1168.8 C703.8 1172.9 705 1176.2 706.2 1180 C707.5 1183.8 708.3 1188.3 710 1191.2 C711.7 1194.2 714.4 1194.8 716.2 1197.5 C718.1 1200.2 719.4 1206.2 721.2 1207.5 C723.1 1208.8 725.6 1205.2 727.5 1205.6 C729.4 1206 730.6 1209.5 732.5 1210 C734.4 1210.5 736.7 1208.1 738.8 1208.8 C740.8 1209.4 742.7 1212.8 745 1213.8 C747.3 1214.7 750.4 1213.7 752.5 1214.4 C754.6 1215.1 755.8 1217.9 757.5 1218.1 C759.2 1218.3 761.1 1215.8 762.5 1215.6 C763.9 1215.4 764.3 1216.9 766 1216.9 C767.7 1216.9 770.2 1215.6 772.5 1215.6 C774.8 1215.6 777.9 1217.7 780 1216.9 C782.1 1216.1 783.3 1212.1 785 1210.6 C786.7 1209.1 788.1 1207.4 790 1208.1 C791.9 1208.8 794 1213.8 796.2 1215 C798.5 1216.2 801.2 1213.9 803.8 1215.6 C806.2 1217.3 808.3 1223.5 811.2 1225 C814.2 1226.5 818.4 1223.8 821.2 1224.4 C824.1 1225 825.4 1229 828.1 1228.8 C830.8 1228.5 834.7 1223.5 837.5 1223.1 C840.3 1222.7 842.7 1225.4 845 1226.2 C847.3 1227.1 847.9 1226.6 851.2 1228.1 C854.6 1229.6 861.5 1234.8 865 1235 C868.5 1235.2 869.6 1230.4 872.5 1229.4 C875.4 1228.4 879.6 1230.4 882.5 1228.8 C885.4 1227.1 887.8 1221.5 890 1219.4 C892.2 1217.3 893.7 1216.2 895.6 1216.2 C897.5 1216.2 899.3 1217.9 901.2 1219.4 C903.2 1220.9 905.6 1223.1 907.5 1225 C909.4 1226.9 910.2 1229 912.5 1230.6 C914.8 1232.2 918.5 1233.5 921.2 1234.4 C924 1235.3 926.2 1237.2 928.8 1236.2 C931.2 1235.3 933.8 1229.3 936.2 1228.8 C938.8 1228.2 941 1232.9 943.8 1233.1 C946.5 1233.3 950.2 1229.9 952.5 1230 C954.8 1230.1 955.4 1233.8 957.5 1233.8 C959.6 1233.8 962.1 1230.7 965 1230 C967.9 1229.3 972.5 1230.2 975 1229.4 C977.5 1228.6 977.5 1226.4 980 1225 C982.5 1223.6 986.5 1221.7 990 1221.2 C993.5 1220.8 998.8 1221.4 1001.2 1222.5 C1003.8 1223.6 1003.1 1227.9 1005 1228.1 C1006.9 1228.3 1009.8 1224.4 1012.5 1223.8 C1015.2 1223.1 1018.3 1225.2 1021.2 1224.4 C1024.2 1223.6 1027.5 1220.9 1030 1218.8 C1032.5 1216.6 1034.2 1213.5 1036.2 1211.2 C1038.3 1209 1040.4 1207.9 1042.5 1205 C1044.6 1202.1 1046.7 1197.7 1048.8 1193.8 C1050.8 1189.8 1053.3 1185.2 1055 1181.2 C1056.7 1177.3 1057.6 1173 1058.8 1170 C1059.9 1167 1061.1 1165.3 1062 1163 C1062.9 1160.7 1063 1159.2 1064 1156 C1065 1152.8 1066.1 1147.5 1068.1 1144 C1070.1 1140.5 1073.4 1137.3 1076.1 1134.9 C1078.8 1132.5 1081.8 1130.1 1084.2 1129.8 C1086.6 1129.5 1088.4 1131.9 1090.2 1132.9 C1092 1133.9 1093.3 1136.8 1095.3 1135.9 C1097.3 1135.1 1100.4 1131.5 1102.3 1127.8 C1104.2 1124.1 1105.1 1119.4 1106.4 1113.7 C1107.8 1108 1109.1 1101.2 1110.4 1093.5 C1111.7 1085.8 1113.1 1076 1114.4 1067.3 C1115.8 1058.6 1117.2 1049.5 1118.5 1041.1 C1119.8 1032.7 1121.2 1025.3 1122.5 1016.9 C1123.8 1008.5 1125.2 998.1 1126.5 990.7 C1127.8 983.3 1129.1 977.6 1130.6 972.6 C1132.1 967.6 1134.1 963 1135.6 960.5 C1137.1 958 1138.1 957.2 1139.6 957.5 C1141.1 957.8 1143.2 959.3 1144.7 962.5 C1146.2 965.7 1147.4 969.9 1148.7 976.6 C1150 983.3 1151.4 993.7 1152.7 1002.8 C1154 1011.9 1155.5 1021.6 1156.8 1031 C1158.1 1040.4 1159.5 1050.2 1160.8 1059.3 C1162.1 1068.4 1163.3 1076.8 1164.8 1085.5 C1166.3 1094.2 1168.1 1103.6 1169.9 1111.7 C1171.8 1119.8 1173.9 1128.2 1175.9 1133.9 C1177.9 1139.6 1179.8 1142.7 1182 1146 C1184.2 1149.3 1186.7 1152.3 1189 1154 C1191.3 1155.7 1193.8 1156.2 1196.1 1156 C1198.4 1155.8 1200.6 1154.8 1203.1 1153 C1205.6 1151.2 1209 1147.8 1211.2 1145 C1213.4 1142.2 1214.8 1139.8 1216.3 1135.9 C1217.8 1132 1219 1126.8 1220.3 1121.8 C1221.6 1116.8 1223 1112 1224.3 1105.6 C1225.6 1099.2 1226.9 1091.2 1228.3 1083.5 C1229.7 1075.8 1231.1 1067 1232.4 1059.3 C1233.8 1051.6 1235.1 1044.8 1236.4 1037.1 C1237.7 1029.4 1239.1 1021 1240.4 1012.9 C1241.8 1004.8 1243 995.1 1244.5 988.7 C1246 982.3 1247.9 977.4 1249.5 974.6 C1251.1 971.9 1252.4 970.8 1254 972.2 C1255.6 973.6 1257.4 977.3 1259.1 982.8 C1260.8 988.3 1262.4 996.6 1264.1 1005 C1265.8 1013.4 1267.5 1023.8 1269.2 1033.2 C1270.9 1042.6 1272.5 1052.8 1274.2 1061.5 C1275.9 1070.2 1277.4 1079.7 1279.2 1085.6 C1281 1091.5 1283.5 1096 1285.3 1096.7 C1287.1 1097.4 1288.1 1093.2 1290.3 1089.7 C1292.5 1086.2 1296.4 1080.3 1298.4 1075.6 C1300.4 1070.9 1301.1 1067.5 1302.4 1061.5 C1303.8 1055.5 1305.2 1047.7 1306.5 1039.3 C1307.8 1030.9 1309.2 1020.1 1310.5 1011 C1311.8 1001.9 1313.2 993.2 1314.5 984.8 C1315.8 976.4 1317 968.6 1318.5 960.6 C1320 952.6 1321.9 943.2 1323.6 936.5 C1325.3 929.8 1326.8 924.2 1328.6 920.3 C1330.4 916.4 1332.7 913.3 1334.7 913.3 C1336.7 913.3 1338.9 915.4 1340.7 920.3 C1342.5 925.2 1344.1 933.8 1345.8 942.5 C1347.5 951.2 1349.3 963 1350.8 972.7 C1352.3 982.5 1353.3 990.6 1354.8 1001 C1356.3 1011.4 1358.4 1024.5 1359.9 1035.2 C1361.4 1046 1362.4 1056.1 1363.9 1065.5 C1365.4 1074.9 1367.2 1084.3 1369 1091.7 C1370.8 1099.1 1372.7 1104.8 1375 1109.8 C1377.3 1114.8 1380.4 1116.9 1383.1 1121.9 C1385.8 1127 1388.8 1134 1391.1 1140.1 C1393.4 1146.1 1395.2 1153.2 1397.2 1158.2 C1399.2 1163.2 1401.3 1166.7 1403.2 1170.3 C1405.1 1173.9 1407.2 1176.1 1408.8 1180 C1410.3 1183.9 1410.8 1190.6 1412.5 1193.8 C1414.2 1196.9 1417.1 1196.9 1418.8 1198.8 C1420.4 1200.6 1421.2 1202.2 1422.5 1205 C1423.8 1207.8 1424.4 1213.6 1426.2 1215.6 C1428.1 1217.6 1431 1215.5 1433.8 1216.9 C1436.5 1218.3 1440.2 1221.4 1442.5 1223.8 C1444.8 1226.1 1445.6 1230.3 1447.5 1231.2 C1449.4 1232.2 1451.5 1228 1453.8 1229.4 C1456 1230.8 1457.9 1237.7 1461.2 1239.4 C1464.6 1241.1 1470.8 1237.8 1473.8 1239.4 C1476.7 1241 1476.7 1247.3 1478.8 1248.8 C1480.8 1250.2 1484.1 1247.3 1486.2 1248.1 C1488.4 1248.9 1489.7 1254.2 1491.9 1253.8 C1494.1 1253.3 1497.4 1246.4 1499.4 1245.6 C1501.4 1244.8 1502 1246 1503.8 1248.8 C1505.5 1251.5 1508.1 1260.3 1510 1261.9 C1511.9 1263.5 1512.9 1258.3 1515 1258.1 C1517.1 1257.9 1519.6 1260.1 1522.5 1260.6 C1525.4 1261.1 1529.6 1262.6 1532.5 1261.2 C1535.4 1259.9 1537.7 1253 1540 1252.5 C1542.3 1252 1544.4 1256.6 1546.2 1258.1 C1548.1 1259.6 1549.6 1259.3 1551.2 1261.2 C1552.9 1263.2 1554.4 1270.5 1556.2 1270 C1558.1 1269.5 1560.8 1259.2 1562.5 1258.1 C1564.2 1256.9 1564.6 1262.5 1566.2 1263.1 C1567.9 1263.7 1570.2 1261.5 1572.5 1261.9 C1574.8 1262.3 1577.5 1265.6 1580 1265.6 C1582.5 1265.6 1585.2 1262.7 1587.5 1261.9 C1589.8 1261.1 1592.2 1261.6 1593.8 1260.6 C1595.3 1259.5 1595.4 1255.7 1596.9 1255.6 C1598.4 1255.5 1600.3 1259.6 1602.5 1260 C1604.7 1260.4 1607.1 1260.1 1610 1258.1 C1612.9 1256.1 1617.5 1251.5 1620 1248.1 C1622.5 1244.7 1622.9 1240.2 1625 1237.5 C1627.1 1234.8 1630.6 1235.2 1632.5 1231.9 C1634.4 1228.6 1634.8 1222 1636.2 1217.5 C1637.7 1213 1639.6 1208.2 1641.2 1205 C1642.9 1201.8 1644.6 1198.5 1646.2 1198.1 C1647.9 1197.7 1649.6 1200.7 1651.2 1202.5 C1652.9 1204.3 1654.6 1206.2 1656.2 1208.8 C1657.9 1211.2 1659.6 1217.2 1661.2 1217.5 C1662.9 1217.8 1665 1210.6 1666.2 1210.6 C1667.5 1210.6 1667.9 1213.4 1668.8 1217.5 C1669.6 1221.6 1670 1230.8 1671.2 1235 C1672.5 1239.2 1674.2 1239.6 1676.2 1242.5 C1678.3 1245.4 1681.9 1251 1683.8 1252.5 C1685.6 1254 1685.8 1251.2 1687.5 1251.2 C1689.2 1251.3 1691.7 1253.6 1693.8 1253.1 C1695.8 1252.6 1697.4 1249.7 1700 1248.5 C1702.6 1247.3 1706.1 1246.5 1709.1 1245.9 C1712.1 1245.3 1715.4 1246.3 1718.1 1244.9 C1720.8 1243.5 1723 1238.3 1725.4 1237.7 C1727.8 1237.1 1730.3 1242 1732.7 1241.3 C1735.1 1240.5 1737.5 1235.5 1739.9 1233.2 C1742.3 1230.9 1744.8 1230.1 1747.2 1227.7 C1749.6 1225.3 1752 1221.6 1754.4 1218.6 C1756.8 1215.6 1759.3 1212 1761.7 1209.6 C1764.1 1207.2 1766.5 1206.8 1768.9 1204.1 C1771.3 1201.4 1773.5 1196.8 1776.2 1193.2 C1778.9 1189.6 1782.9 1186.6 1785.3 1182.4 C1787.7 1178.2 1788.9 1174.2 1790.7 1167.8 C1792.5 1161.4 1794.4 1152.4 1796.2 1144.3 C1798 1136.2 1799.8 1127.1 1801.6 1118.9 C1803.4 1110.7 1805.2 1102.9 1807 1095.3 C1808.8 1087.7 1810.4 1080.2 1812.5 1073.5 C1814.6 1066.8 1817.4 1059.5 1819.7 1055.4 C1822 1051.3 1824 1049 1826.1 1049 C1828.2 1049 1830.4 1051.6 1832.4 1055.4 C1834.4 1059.2 1836.1 1064.8 1837.9 1071.7 C1839.7 1078.7 1841.6 1088.6 1843.3 1097.1 C1845 1105.6 1846.2 1113.7 1847.9 1122.5 C1849.6 1131.3 1851.3 1141.8 1853.3 1149.7 C1855.3 1157.6 1857.7 1163.4 1859.7 1169.7 C1861.7 1176 1863.3 1182.7 1865.1 1187.8 C1866.9 1192.9 1868.1 1196.6 1870.5 1200.5 C1872.9 1204.4 1876.3 1208.4 1879.6 1211.4 C1882.9 1214.4 1887.8 1217.1 1890.5 1218.6 C1893.2 1220.1 1893.5 1217.8 1895.9 1220.5 C1898.3 1223.2 1902 1231.1 1905 1235 C1908 1238.9 1911.7 1242.5 1914.1 1244 C1916.5 1245.5 1917.1 1242.8 1919.5 1244 C1921.9 1245.2 1925.9 1248.6 1928.6 1251.3 C1931.3 1254 1933.8 1259.2 1935.9 1260.4 C1938 1261.6 1939.7 1258 1941.3 1258.6 C1942.9 1259.2 1944 1263.5 1945.8 1264 C1947.6 1264.5 1949.6 1261.7 1952.2 1261.3 C1954.8 1260.9 1959 1262 1961.2 1261.5 C1963.4 1261 1963.8 1257.3 1965.4 1258.4 C1967 1259.5 1968.7 1267.3 1970.6 1268.3 C1972.5 1269.2 1975.2 1264.4 1976.9 1264.1 C1978.6 1263.8 1979.6 1266.6 1981 1266.2 C1982.4 1265.8 1983.3 1261.2 1985.2 1261.5 C1987.1 1261.8 1990.2 1267.4 1992.5 1268.3 C1994.8 1269.2 1996.6 1266.1 1998.7 1266.7 C2000.8 1267.3 2003.3 1271.5 2005 1271.9 C2006.7 1272.3 2007.5 1271 2009.1 1269.3 C2010.7 1267.6 2012.7 1262 2014.4 1261.5 C2016.2 1261 2017 1265.7 2019.6 1266.2 C2022.2 1266.7 2025.5 1264.8 2030 1264.6 C2034.5 1264.4 2041.9 1265.2 2046.6 1265.2 C2051.3 1265.2 2055.3 1264 2058.1 1264.6 C2060.9 1265.2 2061.2 1269.3 2063.3 1268.8 C2065.4 1268.3 2068.4 1262.7 2070.6 1261.5 C2072.8 1260.3 2074.4 1262.9 2076.3 1261.5 C2078.2 1260.1 2080 1255.1 2082 1253.2 C2084 1251.3 2085.9 1251.1 2088.3 1250.1 C2090.7 1249 2094.3 1248.4 2096.6 1246.9 C2098.8 1245.4 2099.6 1242.1 2101.8 1241.2 C2104.1 1240.3 2107.8 1242.2 2110.1 1241.7 C2112.3 1241.2 2113.2 1237.8 2115.3 1238.1 C2117.4 1238.4 2120.2 1243.4 2122.6 1243.3 C2125 1243.2 2127.5 1239.1 2129.9 1237.6 C2132.3 1236.1 2134.4 1234.8 2137.2 1234.4 C2140 1234 2144.3 1237 2146.6 1235 C2148.9 1233 2148.9 1225.6 2150.8 1222.5 C2152.7 1219.4 2156.5 1217.7 2158 1216.2 C2159.5 1214.7 2158.6 1215 2160 1213.7 C2161.4 1212.4 2164.4 1210.5 2166.4 1208.3 C2168.4 1206.1 2170 1204.9 2171.8 1200.8 C2173.6 1196.7 2175.2 1190 2177.2 1183.6 C2179.2 1177.1 2181.6 1168.9 2183.6 1162.1 C2185.6 1155.3 2187.6 1149.9 2189 1142.7 C2190.4 1135.5 2190.9 1128 2192.2 1119.1 C2193.4 1110.1 2194.9 1099.4 2196.5 1089 C2198.1 1078.6 2200.1 1066.7 2201.9 1056.7 C2203.7 1046.7 2205.5 1037.2 2207.3 1028.8 C2209.1 1020.4 2210.5 1011.6 2212.7 1006.2 C2214.8 1000.8 2217.9 997 2220.2 996.5 C2222.5 996 2224.6 999 2226.6 1003 C2228.6 1007 2230.4 1013 2232 1020.2 C2233.6 1027.4 2234.9 1036.7 2236.3 1046 C2237.7 1055.3 2239.2 1066.1 2240.6 1076.1 C2242 1086.1 2243.5 1096.5 2244.9 1106.2 C2246.3 1115.9 2247.6 1124.8 2249.2 1134.1 C2250.8 1143.4 2252.6 1153.8 2254.6 1162.1 C2256.6 1170.3 2258.8 1177.9 2261 1183.6 C2263.2 1189.3 2265.3 1192.6 2267.5 1196.5 C2269.7 1200.4 2271.8 1205 2273.9 1207.2 C2276.1 1209.4 2278.2 1207.6 2280.4 1209.4 C2282.6 1211.2 2283.9 1216.2 2286.8 1218 C2289.7 1219.8 2293.8 1219 2297.6 1220.1 C2301.4 1221.2 2306.4 1224.2 2309.4 1224.4 C2312.4 1224.6 2313.1 1220.5 2315.8 1221.2 C2318.5 1221.9 2322.8 1227.5 2325.5 1228.7 C2328.2 1230 2329.1 1226.9 2332 1228.7 C2334.9 1230.5 2339.8 1237.9 2342.7 1239.5 C2345.6 1241.1 2347 1238.1 2349.2 1238.4 C2351.3 1238.8 2354.1 1241.2 2355.6 1241.6 C2357.1 1242 2357.6 1241.1 2358 1241"/>
</g>
<g stroke="#000" fill="none">
<rect x="184" y="57" width="2174" height="1240" stroke-width="4"/>
<line x1="182" y1="469.5" x2="2360" y2="469.5" stroke-width="3.5"/>
<line x1="182" y1="884" x2="2360" y2="884" stroke-width="4"/>
<line x1="184.0" y1="470" x2="184.0" y2="486" stroke-width="4"/>
<line x1="401.4" y1="470" x2="401.4" y2="479" stroke-width="4"/>
<line x1="618.8" y1="470" x2="618.8" y2="486" stroke-width="4"/>
<line x1="836.2" y1="470" x2="836.2" y2="479" stroke-width="4"/>
<line x1="1053.6" y1="470" x2="1053.6" y2="486" stroke-width="4"/>
<line x1="1271.0" y1="470" x2="1271.0" y2="479" stroke-width="4"/>
<line x1="1488.4" y1="470" x2="1488.4" y2="486" stroke-width="4"/>
<line x1="1705.8" y1="470" x2="1705.8" y2="479" stroke-width="4"/>
<line x1="1923.2" y1="470" x2="1923.2" y2="486" stroke-width="4"/>
<line x1="2140.6" y1="470" x2="2140.6" y2="479" stroke-width="4"/>
<line x1="2358.0" y1="470" x2="2358.0" y2="486" stroke-width="4"/>
<line x1="184.0" y1="885" x2="184.0" y2="901" stroke-width="4"/>
<line x1="401.4" y1="885" x2="401.4" y2="894" stroke-width="4"/>
<line x1="618.8" y1="885" x2="618.8" y2="901" stroke-width="4"/>
<line x1="836.2" y1="885" x2="836.2" y2="894" stroke-width="4"/>
<line x1="1053.6" y1="885" x2="1053.6" y2="901" stroke-width="4"/>
<line x1="1271.0" y1="885" x2="1271.0" y2="894" stroke-width="4"/>
<line x1="1488.4" y1="885" x2="1488.4" y2="901" stroke-width="4"/>
<line x1="1705.8" y1="885" x2="1705.8" y2="894" stroke-width="4"/>
<line x1="1923.2" y1="885" x2="1923.2" y2="901" stroke-width="4"/>
<line x1="2140.6" y1="885" x2="2140.6" y2="894" stroke-width="4"/>
<line x1="2358.0" y1="885" x2="2358.0" y2="901" stroke-width="4"/>
<line x1="184.0" y1="1298" x2="184.0" y2="1314" stroke-width="4"/>
<line x1="401.4" y1="1298" x2="401.4" y2="1307" stroke-width="4"/>
<line x1="618.8" y1="1298" x2="618.8" y2="1314" stroke-width="4"/>
<line x1="836.2" y1="1298" x2="836.2" y2="1307" stroke-width="4"/>
<line x1="1053.6" y1="1298" x2="1053.6" y2="1314" stroke-width="4"/>
<line x1="1271.0" y1="1298" x2="1271.0" y2="1307" stroke-width="4"/>
<line x1="1488.4" y1="1298" x2="1488.4" y2="1314" stroke-width="4"/>
<line x1="1705.8" y1="1298" x2="1705.8" y2="1307" stroke-width="4"/>
<line x1="1923.2" y1="1298" x2="1923.2" y2="1314" stroke-width="4"/>
<line x1="2140.6" y1="1298" x2="2140.6" y2="1307" stroke-width="4"/>
<line x1="2358.0" y1="1298" x2="2358.0" y2="1314" stroke-width="4"/>
</g>
<path d="M421.25 296.60 L424.73 307.31 L435.99 307.31 L426.88 313.93 L430.36 324.64 L421.25 318.02 L412.14 324.64 L415.62 313.93 L406.51 307.31 L417.77 307.31Z" fill="none" stroke="#0000ff" stroke-width="5" stroke-linejoin="bevel"/>
<path d="M701.00 239.50 L704.48 250.21 L715.74 250.21 L706.63 256.83 L710.11 267.54 L701.00 260.92 L691.89 267.54 L695.37 256.83 L686.26 250.21 L697.52 250.21Z" fill="none" stroke="#0000ff" stroke-width="5" stroke-linejoin="bevel"/>
<path d="M786.00 312.60 L789.48 323.31 L800.74 323.31 L791.63 329.93 L795.11 340.64 L786.00 334.02 L776.89 340.64 L780.37 329.93 L771.26 323.31 L782.52 323.31Z" fill="none" stroke="#0000ff" stroke-width="5" stroke-linejoin="bevel"/>
<path d="M1077.10 258.60 L1080.58 269.31 L1091.84 269.31 L1082.73 275.93 L1086.21 286.64 L1077.10 280.02 L1067.99 286.64 L1071.47 275.93 L1062.36 269.31 L1073.62 269.31Z" fill="none" stroke="#0000ff" stroke-width="5" stroke-linejoin="bevel"/>
<path d="M1414.90 283.10 L1418.38 293.81 L1429.64 293.81 L1420.53 300.43 L1424.01 311.14 L1414.90 304.52 L1405.79 311.14 L1409.27 300.43 L1400.16 293.81 L1411.42 293.81Z" fill="none" stroke="#0000ff" stroke-width="5" stroke-linejoin="bevel"/>
<path d="M1683.10 328.20 L1686.58 338.91 L1697.84 338.91 L1688.73 345.53 L1692.21 356.24 L1683.10 349.62 L1673.99 356.24 L1677.47 345.53 L1668.36 338.91 L1679.62 338.91Z" fill="none" stroke="#0000ff" stroke-width="5" stroke-linejoin="bevel"/>
<path d="M416.00 657.60 L419.48 668.31 L430.74 668.31 L421.63 674.93 L425.11 685.64 L416.00 679.02 L406.89 685.64 L410.37 674.93 L401.26 668.31 L412.52 668.31Z" fill="none" stroke="#008000" stroke-width="5" stroke-linejoin="bevel"/>
<path d="M693.10 643.85 L696.58 654.56 L707.84 654.56 L698.73 661.18 L702.21 671.89 L693.10 665.27 L683.99 671.89 L687.47 661.18 L678.36 654.56 L689.62 654.56Z" fill="none" stroke="#008000" stroke-width="5" stroke-linejoin="bevel"/>
<path d="M787.10 693.85 L790.58 704.56 L801.84 704.56 L792.73 711.18 L796.21 721.89 L787.10 715.27 L777.99 721.89 L781.47 711.18 L772.36 704.56 L783.62 704.56Z" fill="none" stroke="#008000" stroke-width="5" stroke-linejoin="bevel"/>
<path d="M1087.80 604.10 L1091.28 614.81 L1102.54 614.81 L1093.43 621.43 L1096.91 632.14 L1087.80 625.52 L1078.69 632.14 L1082.17 621.43 L1073.06 614.81 L1084.32 614.81Z" fill="none" stroke="#008000" stroke-width="5" stroke-linejoin="bevel"/>
<path d="M1404.80 674.90 L1408.28 685.61 L1419.54 685.61 L1410.43 692.23 L1413.91 702.94 L1404.80 696.32 L1395.69 702.94 L1399.17 692.23 L1390.06 685.61 L1401.32 685.61Z" fill="none" stroke="#008000" stroke-width="5" stroke-linejoin="bevel"/>
<path d="M1661.90 713.20 L1665.38 723.91 L1676.64 723.91 L1667.53 730.53 L1671.01 741.24 L1661.90 734.62 L1652.79 741.24 L1656.27 730.53 L1647.16 723.91 L1658.42 723.91Z" fill="none" stroke="#008000" stroke-width="5" stroke-linejoin="bevel"/>
<path d="M408.10 1143.85 L411.58 1154.56 L422.84 1154.56 L413.73 1161.18 L417.21 1171.89 L408.10 1165.27 L398.99 1171.89 L402.47 1161.18 L393.36 1154.56 L404.62 1154.56Z" fill="none" stroke="#ff0000" stroke-width="5" stroke-linejoin="bevel"/>
<path d="M684.00 1098.85 L687.48 1109.56 L698.74 1109.56 L689.63 1116.18 L693.11 1126.89 L684.00 1120.27 L674.89 1126.89 L678.37 1116.18 L669.26 1109.56 L680.52 1109.56Z" fill="none" stroke="#ff0000" stroke-width="5" stroke-linejoin="bevel"/>
<path d="M790.00 1173.85 L793.48 1184.56 L804.74 1184.56 L795.63 1191.18 L799.11 1201.89 L790.00 1195.27 L780.89 1201.89 L784.37 1191.18 L775.26 1184.56 L786.52 1184.56Z" fill="none" stroke="#ff0000" stroke-width="5" stroke-linejoin="bevel"/>
<path d="M895.90 1181.70 L899.38 1192.41 L910.64 1192.41 L901.53 1199.03 L905.01 1209.74 L895.90 1203.12 L886.79 1209.74 L890.27 1199.03 L881.16 1192.41 L892.42 1192.41Z" fill="none" stroke="#ff0000" stroke-width="5" stroke-linejoin="bevel"/>
<path d="M1076.10 1088.70 L1079.58 1099.41 L1090.84 1099.41 L1081.73 1106.03 L1085.21 1116.74 L1076.10 1110.12 L1066.99 1116.74 L1070.47 1106.03 L1061.36 1099.41 L1072.62 1099.41Z" fill="none" stroke="#ff0000" stroke-width="5" stroke-linejoin="bevel"/>
<path d="M1393.10 1092.90 L1396.58 1103.61 L1407.84 1103.61 L1398.73 1110.23 L1402.21 1120.94 L1393.10 1114.32 L1383.99 1120.94 L1387.47 1110.23 L1378.36 1103.61 L1389.62 1103.61Z" fill="none" stroke="#ff0000" stroke-width="5" stroke-linejoin="bevel"/>
<path d="M1645.00 1160.10 L1648.48 1170.81 L1659.74 1170.81 L1650.63 1177.43 L1654.11 1188.14 L1645.00 1181.52 L1635.89 1188.14 L1639.37 1177.43 L1630.26 1170.81 L1641.52 1170.81Z" fill="none" stroke="#ff0000" stroke-width="5" stroke-linejoin="bevel"/>
<path d="M562.80 110.30 L566.28 121.01 L577.54 121.01 L568.43 127.63 L571.91 138.34 L562.80 131.72 L553.69 138.34 L557.17 127.63 L548.06 121.01 L559.32 121.01Z" fill="none" stroke="#0000ff" stroke-width="5" stroke-linejoin="bevel"/>
<path d="M568.50 528.30 L571.98 539.01 L583.24 539.01 L574.13 545.63 L577.61 556.34 L568.50 549.72 L559.39 556.34 L562.87 545.63 L553.76 539.01 L565.02 539.01Z" fill="none" stroke="#008000" stroke-width="5" stroke-linejoin="bevel"/>
<path d="M564.60 953.80 L568.08 964.51 L579.34 964.51 L570.23 971.13 L573.71 981.84 L564.60 975.22 L555.49 981.84 L558.97 971.13 L549.86 964.51 L561.12 964.51Z" fill="none" stroke="#ff0000" stroke-width="5" stroke-linejoin="bevel"/>
<g font-family="'Liberation Serif', serif" font-size="64" font-weight="bold" text-anchor="middle" fill="#000">
<text x="1139.6" y="144.9">*</text>
<text x="1252.5" y="162.7">*</text>
<text x="1334.7" y="103.5">*</text>
<text x="1825.3" y="238.9">*</text>
<text x="2219.1" y="182.9">*</text>
<text x="1142.7" y="553.7">*</text>
<text x="1253.5" y="563.7">*</text>
<text x="1336.7" y="516.6">*</text>
<text x="1827.6" y="628.3">*</text>
<text x="2220.6" y="579.8">*</text>
<text x="1137.6" y="969.7">*</text>
<text x="1254.6" y="984.8">*</text>
<text x="1335.7" y="928.5">*</text>
<text x="1829.2" y="1057.6">*</text>
<text x="2220.6" y="1006.5">*</text>
<text x="1574.5" y="136.9">*</text>
<text x="1565.7" y="562.1">*</text>
<text x="1557.7" y="970.9">*</text>
</g>
<g font-family="'Liberation Serif', serif" font-size="48" text-anchor="middle" fill="#000">
<text x="184.0" y="1361.8">10</text>
<text x="618.8" y="1361.8">20</text>
<text x="1053.6" y="1361.8">30</text>
<text x="1488.4" y="1361.8">40</text>
<text x="1923.2" y="1361.8">50</text>
<text x="2358.0" y="1361.8">60</text>
</g>
<g font-family="'Liberation Serif', serif" font-size="56" fill="#000">
<text x="208.5" y="126.3">(a)</text>
<text x="208.4" y="543.2">(b)</text>
<text x="213.5" y="962.2">(c)</text>
</g>
<g fill="none" stroke="#000" stroke-width="1.5">
<rect x="512.5" y="90.5" width="560" height="77"/>
<rect x="521.5" y="512.5" width="473" height="77"/>
<rect x="525.5" y="938.5" width="533" height="78"/>
</g>
<text font-family="'Liberation Serif', serif" font-size="50.5" letter-spacing="-2" fill="#000"><tspan x="588.6" y="139.4">CsPb(Br/Cl)</tspan><tspan x="818.8" y="154.4" font-size="29" letter-spacing="0">3</tspan> <tspan x="844.6" y="139.4">(perovskite)</tspan></text>
<text font-family="'Liberation Serif', serif" font-size="50.5" letter-spacing="-2" fill="#000"><tspan x="597.8" y="561.1">CsPbBr</tspan><tspan x="740.8" y="576.4" font-size="29" letter-spacing="0">3</tspan> <tspan x="766.9" y="561.1">(perovskite)</tspan></text>
<text font-family="'Liberation Serif', serif" font-size="50.5" letter-spacing="-2" fill="#000"><tspan x="602.9" y="988.1">CsPb(I/Br)</tspan><tspan x="804.8" y="1003.6" font-size="29" letter-spacing="0">3</tspan> <tspan x="829.7" y="988.1">(perovskite)</tspan></text>
<g font-family="'Liberation Serif', serif" font-size="46.3" fill="#000">
<text x="1610" y="125">ZnO (wurtzite)</text>
<text x="1611" y="551">ZnO (wurtzite)</text>
<text x="1602" y="961">ZnO (wurtzite)</text>
</g>
<text font-family="'Liberation Serif', serif" font-size="54.5" x="1270" y="1452" text-anchor="middle" fill="#000">Diffraction angle, 2θ</text>
<text font-family="'Liberation Serif', serif" font-size="57" transform="translate(58 670.8) rotate(-90)" text-anchor="middle" fill="#000">Intensity, a.u. (Log scale)</text>
</svg></body></html>
